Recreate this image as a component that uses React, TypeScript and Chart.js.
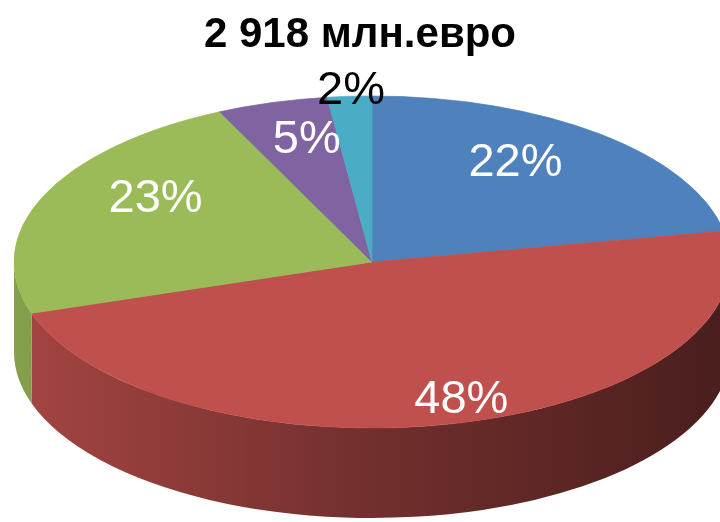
import React, { useEffect, useRef } from "react";
import { Chart, registerables } from "chart.js";

Chart.register(...registerables);

// ---- data ----
const categories = ["Сектор 1", "Сектор 2", "Сектор 3", "Сектор 4", "Сектор 5"];
const shares = [22, 48, 23, 5, 2];
const sliceColors = ["#4F81BD", "#C0504D", "#9BBB59", "#8064A2", "#4BACC6"];
const labelColors = ["#FFFFFF", "#FFFFFF", "#FFFFFF", "#FFFFFF", "#000000"];
const titleText = "2 918 млн.евро";

// ---- layout / style ----
const W = 720;
const H = 522;
const ELLIPSE = { cx: 372, cy: 262, rx: 358, ry: 166, depth: 90 };
// label placement uses a simple perspective view of the disc
const LABEL_VIEW = { apexY: 242, focal: 1633, dist: 4.6, tilt: (27 * Math.PI) / 180 };
const LABEL_RADIUS = [0.7, 0.85, 0.7, 0.75, 1.15];
const LABEL_FONT = "47px 'Liberation Sans', Arial, sans-serif";

function shade(hex: string, k: number): string {
  const n = parseInt(hex.slice(1), 16);
  const r = Math.round(((n >> 16) & 255) * k);
  const g = Math.round(((n >> 8) & 255) * k);
  const b = Math.round((n & 255) * k);
  return `rgb(${r},${g},${b})`;
}

const pie3d = {
  id: "pie3d",
  beforeDatasetsDraw(chart: any) {
    const meta = chart.getDatasetMeta(0);
    const arcs = meta.data;
    if (!arcs.length) return;
    const ctx: CanvasRenderingContext2D = chart.ctx;
    const { cx, cy, rx, ry, depth } = ELLIPSE;
    // extruded side (front half only)
    arcs.forEach((arc: any, i: number) => {
      const a = Math.max(arc.startAngle, 0);
      const b = Math.min(arc.endAngle, Math.PI);
      if (b <= a) return;
      const col = sliceColors[i];
      const grad = ctx.createLinearGradient(cx - rx, 0, cx + rx, 0);
      grad.addColorStop(0, shade(col, 0.86));
      grad.addColorStop(0.5, shade(col, 0.59));
      grad.addColorStop(1, shade(col, 0.38));
      ctx.save();
      ctx.beginPath();
      ctx.ellipse(cx, cy, rx, ry, 0, a, b);
      ctx.lineTo(cx + rx * Math.cos(b), cy + depth + ry * Math.sin(b));
      ctx.ellipse(cx, cy + depth, rx, ry, 0, b, a, true);
      ctx.closePath();
      ctx.fillStyle = grad;
      ctx.fill();
      ctx.restore();
    });
    // squash the library-drawn pie into the top ellipse
    const a0 = arcs[0];
    const R = a0.outerRadius;
    ctx.save();
    ctx.translate(cx, cy);
    ctx.scale(rx / R, ry / R);
    ctx.translate(-a0.x, -a0.y);
  },
  afterDatasetsDraw(chart: any) {
    const meta = chart.getDatasetMeta(0);
    const arcs = meta.data;
    if (!arcs.length) return;
    const ctx: CanvasRenderingContext2D = chart.ctx;
    ctx.restore();
    const { cx } = ELLIPSE;
    const { apexY, focal, dist, tilt } = LABEL_VIEW;
    ctx.save();
    ctx.font = LABEL_FONT;
    ctx.textAlign = "center";
    ctx.textBaseline = "middle";
    arcs.forEach((arc: any, i: number) => {
      const mid = (arc.startAngle + arc.endAngle) / 2;
      const f = LABEL_RADIUS[i];
      const X = f * Math.cos(mid);
      const v = -f * Math.sin(mid);
      const z = dist + v * Math.cos(tilt);
      const px = cx + (focal * X) / z;
      const py = apexY - (focal * v * Math.sin(tilt)) / z;
      ctx.fillStyle = labelColors[i];
      ctx.fillText(`${shares[i]}%`, px, py);
    });
    ctx.restore();
  },
};

export default function App() {
  const ref = useRef<HTMLCanvasElement | null>(null);
  useEffect(() => {
    if (!ref.current) return;
    const chart = new Chart(ref.current, {
      type: "pie",
      data: {
        labels: categories,
        datasets: [
          {
            data: shares,
            backgroundColor: sliceColors,
            borderColor: sliceColors,
            borderWidth: 0.5,
            clip: false as any,
          },
        ],
      },
      options: {
        responsive: false,
        animation: false,
        layout: { padding: { left: 20, right: 20, top: 0, bottom: 60 } },
        plugins: {
          legend: { display: false },
          tooltip: { enabled: false },
          title: {
            display: true,
            text: titleText,
            color: "#000000",
            font: { family: "'Liberation Sans', Arial, sans-serif", size: 42, weight: "bold" },
            padding: { top: 10, bottom: 10 },
          },
        },
      },
      plugins: [pie3d],
    });
    return () => chart.destroy();
  }, []);
  return (
    <div style={{ position: "fixed", left: 0, top: 0, width: W, height: H, background: "#ffffff" }}>
      <canvas ref={ref} width={W} height={H} style={{ display: "block" }} />
    </div>
  );
}
